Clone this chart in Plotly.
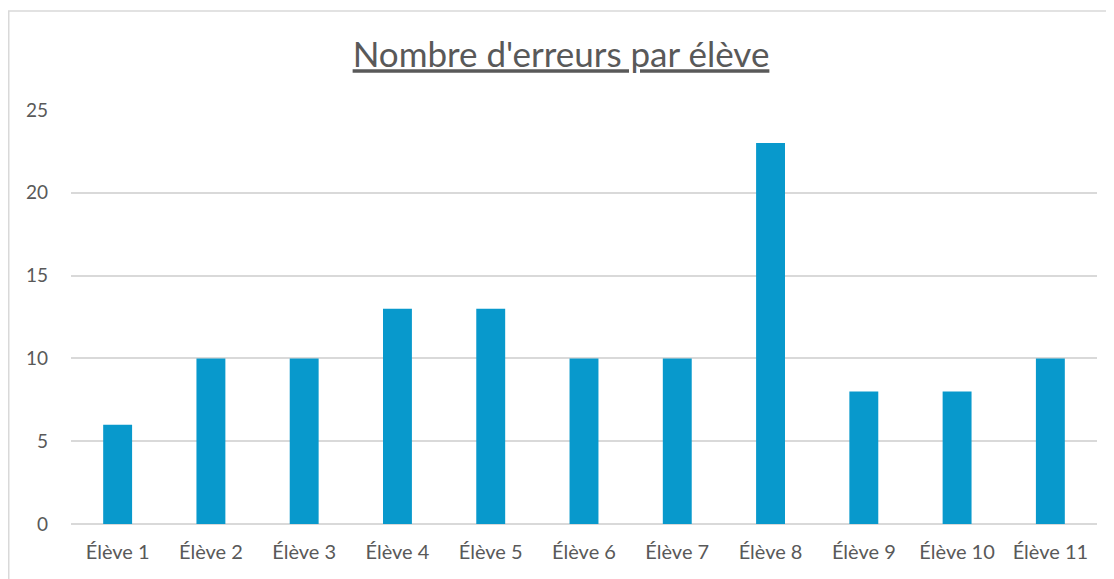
import plotly.graph_objects as go

categories = ["Élève 1", "Élève 2", "Élève 3", "Élève 4", "Élève 5", "Élève 6",
              "Élève 7", "Élève 8", "Élève 9", "Élève 10", "Élève 11"]
errors = [6, 10, 10, 13, 13, 10, 10, 23, 8, 8, 10]
y_ticks = [0, 5, 10, 15, 20, 25]

# page offset (body margin) of 8px
OFF = 8
W, H = 1114 - OFF, 579 - OFF
L, T = 71 - OFF, 110 - OFF
R = W - (1097 - OFF)
B = H - (524 - OFF)
pw, ph = W - L - R, H - T - B

def px(x):
    return (x - OFF - L) / pw

def py(y):
    return (H - B - (y - OFF)) / ph

fig = go.Figure(go.Bar(
    x=categories, y=errors,
    marker=dict(color="#0899CC", line=dict(width=0)),
    width=0.31,
))

fig.update_layout(
    width=W, height=H,
    margin=dict(l=L, r=R, t=T, b=B),
    paper_bgcolor="white", plot_bgcolor="white",
    font=dict(family="Lato, Open Sans, sans-serif", color="#595959", size=19),
    title=dict(text="<u>Nombre d'erreurs par élève</u>", x=0.5, xanchor="center",
               y=1 - (55 - OFF) / H, yanchor="middle",
               font=dict(size=35, color="#595959")),
    showlegend=False,
    xaxis=dict(showgrid=False, showline=False, ticks="", ticklabelstandoff=14,
               tickfont=dict(size=20)),
    yaxis=dict(range=[0, 25], tickvals=y_ticks, showgrid=True, gridcolor="#D9D9D9",
               gridwidth=1.5, zeroline=True, zerolinecolor="#D9D9D9", zerolinewidth=1.5,
               showline=False, ticks="", ticklabelstandoff=22, tickfont=dict(size=19)),
    shapes=[dict(type="rect", xref="paper", yref="paper",
                 x0=px(OFF + 0.75), x1=px(1130), y0=py(600), y1=py(11),
                 line=dict(color="#D9D9D9", width=1.5), fillcolor="rgba(0,0,0,0)",
                 layer="below")],
)

fig.write_html("out.html")
